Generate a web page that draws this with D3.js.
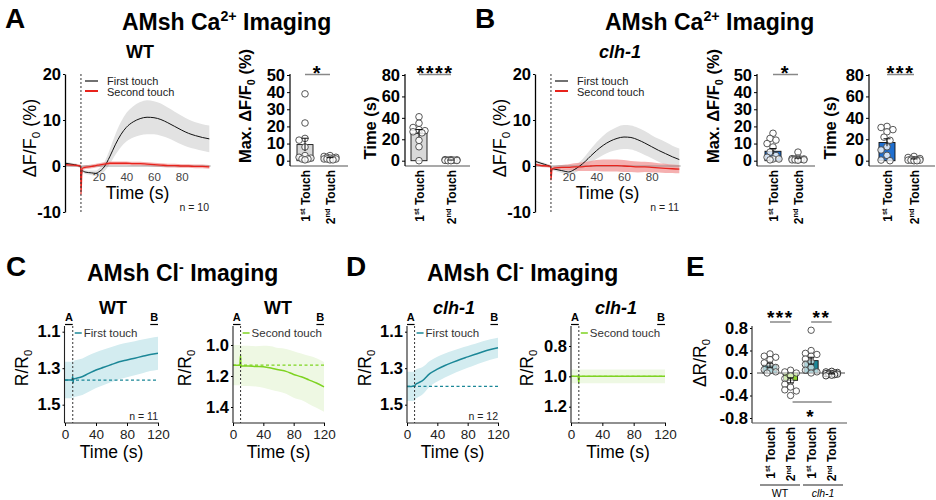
<!DOCTYPE html>
<html><head><meta charset="utf-8">
<script src="https://cdn.jsdelivr.net/npm/d3@7"></script>
<style>body{margin:0;background:#fff}svg{font-family:"Liberation Sans",Arial,Helvetica,sans-serif}</style>
</head><body><svg id="c" width="936" height="500"></svg>
<script>
// ---------------- DATA ----------------
// Ca2+ imaging traces (time in s)
const caTime = [-4,0,5,7,7.2,8,10,15,18,20,24,28,32,36,40,45,50,55,60,65,70,75,80,85,90,95,100];
const wtFirstMean = [0.6,0.4,0.1,-0.2,-3.0,-1.0,-1.3,-1.5,-1.6,-1.3,-0.2,2.0,4.6,6.8,8.4,9.6,10.3,10.6,10.5,10.1,9.4,8.6,7.8,7.1,6.6,6.2,5.9];
const wtFirstSem  = [0.3,0.3,0.3,0.3,0.5,0.4,0.4,0.5,0.6,0.7,1.0,1.6,2.2,2.7,3.1,3.4,3.6,3.7,3.6,3.5,3.3,3.2,3.1,3.0,2.9,2.9,2.9];
const wtSecondMean = [0.3,0.2,0.1,0.0,-6.2,-0.5,-0.3,-0.1,0.1,0.2,0.4,0.6,0.6,0.6,0.6,0.5,0.5,0.4,0.3,0.2,0.1,0.1,0.0,0.0,-0.1,-0.1,-0.2];
const wtSecondSem  = [0.3,0.3,0.3,0.3,0.4,0.4,0.4,0.4,0.4,0.4,0.4,0.4,0.4,0.4,0.4,0.4,0.4,0.4,0.4,0.4,0.4,0.4,0.4,0.4,0.4,0.4,0.4];
const clhFirstMean = [1.0,0.6,0.1,-0.2,-1.2,-0.6,-0.7,-1.0,-1.2,-1.3,-0.8,0.0,1.0,2.2,3.3,4.5,5.4,6.0,6.3,6.2,5.7,5.0,4.2,3.4,2.7,2.0,1.4];
const clhFirstSem  = [0.3,0.3,0.3,0.3,0.4,0.4,0.4,0.5,0.5,0.6,0.7,0.9,1.2,1.5,1.8,2.1,2.3,2.5,2.6,2.6,2.6,2.6,2.5,2.5,2.5,2.4,2.4];
const clhSecondMean = [0.3,0.1,0.0,-0.1,-3.0,-0.6,-0.4,-0.3,-0.3,-0.3,-0.2,-0.2,-0.1,0.0,0.1,0.1,0.1,0.1,0.0,-0.1,-0.2,-0.2,-0.3,-0.4,-0.5,-0.6,-0.7];
const clhSecondSem  = [0.3,0.3,0.3,0.3,0.4,0.4,0.4,0.5,0.6,0.7,0.8,0.9,1.0,1.1,1.2,1.3,1.3,1.3,1.3,1.2,1.2,1.1,1.1,1.0,1.0,0.9,0.9];
const caTouch = 7.2;
const caYTicks = [-10,0,10,20];
const caXTicks = [20,40,60,80];

// Ca2+ bar charts
const touchCats = ["1st Touch","2nd Touch"];
const touchOrd = ["1","2"];
const touchSup = ["st","nd"];
const wtMax1 = [39,22,13,12,8,3,2,1.5,1,1,0.5];
const wtMax2 = [3,2.5,2,2,1.5,1.5,1,1,1,0.5,0.5];
const wtMaxMean = [9.4,1.5], wtMaxSem = [3.7,0.3];
const wtTime1 = [41,35,31,29,28,27,26,19,13,0];
const wtTime2 = [1,1,0.8,0.6,0.5,0.5,0.3,0.2,0,0];
const wtTimeMean = [25.5,0.5], wtTimeSem = [3.6,0.1];
const clhMax1 = [16,13,12,10,8,5,3,2,1,1,0.5];
const clhMax2 = [5,1.5,1.2,1,1,0.8,0.8,0.5,0.5,0.5,0.3];
const clhMaxMean = [5.5,1.1], clhMaxSem = [1.6,0.4];
const clhTime1 = [32,31,29,27,22,19,13,10,5,0.6,0];
const clhTime2 = [4,3,2,1.5,1,1,0.5,0.5,0.5,0,0];
const clhTimeMean = [17,1.3], clhTimeSem = [3.5,0.4];
const maxTicks = [0,10,20,30,40,50];
const timeTicks = [0,20,40,60,80];

// Cl- imaging traces
const clTime = [0,5,9,10,10.5,11,15,20,30,40,50,60,70,80,90,100,110,120];
const wtClFirstMean = [1.365,1.365,1.365,1.345,1.38,1.36,1.355,1.35,1.33,1.31,1.295,1.28,1.265,1.255,1.245,1.235,1.225,1.218];
const wtClFirstSem  = [0.1,0.1,0.1,0.1,0.1,0.1,0.1,0.1,0.1,0.098,0.097,0.096,0.095,0.094,0.093,0.092,0.091,0.09];
const wtClSecondMean = [1.13,1.13,1.13,1.065,1.14,1.135,1.135,1.135,1.138,1.14,1.148,1.16,1.17,1.19,1.205,1.225,1.245,1.27];
const wtClSecondSem  = [0.13,0.13,0.13,0.13,0.13,0.13,0.13,0.13,0.13,0.135,0.14,0.14,0.145,0.15,0.15,0.155,0.16,0.16];
const clhClFirstMean = [1.40,1.40,1.398,1.40,1.395,1.39,1.38,1.37,1.33,1.305,1.285,1.268,1.252,1.238,1.224,1.21,1.198,1.188];
const clhClFirstSem  = [0.08,0.08,0.08,0.08,0.08,0.08,0.078,0.075,0.07,0.068,0.066,0.064,0.062,0.06,0.058,0.057,0.056,0.055];
const clhClSecondMean = [1.0,1.0,1.0,1.04,1.005,1.0,1.0,1.0,1.0,1.0,1.0,1.0,1.0,1.0,1.0,1.0,1.0,1.0];
const clhClSecondSem  = [0.045,0.045,0.045,0.045,0.045,0.045,0.045,0.045,0.045,0.045,0.045,0.045,0.045,0.045,0.045,0.045,0.045,0.045];
const clTouch = 10;
const clXTicks = [0,40,80,120];

// Panel E
const eCats = ["WT 1st","WT 2nd","clh-1 1st","clh-1 2nd"];
const eOrd = ["1","2","1","2"];
const eSup = ["st","nd","st","nd"];
const ePoints = [
  [0.34,0.30,0.28,0.24,0.18,0.14,0.10,0.06,0.04,0.02,0.0],
  [0.05,0.02,0.0,-0.05,-0.1,-0.15,-0.2,-0.25,-0.3,-0.32,-0.4],
  [0.76,0.4,0.35,0.33,0.3,0.25,0.2,0.15,0.1,0.05,0.02,0.0],
  [0.03,0.02,0.01,0.0,0.0,-0.01,-0.01,-0.02,-0.02,-0.03,-0.04,-0.05]
];
const eMean = [0.14,-0.13,0.22,-0.01];
const eSem = [0.035,0.045,0.06,0.008];
const eTicks = [-0.8,-0.4,0,0.4,0.8];

// ---------------- DRAWING ----------------
const FONT = '"Liberation Sans", Arial, Helvetica, sans-serif';
const svg = d3.select("#c");
const TEAL = "#1b8797", TEAL_BAND = "#d3ecf0";
const GREEN = "#7ed321", GREEN_BAND = "#eef8e3";

function rich(g, x, y, parts, o) {
  const t = g.append("text")
    .attr("transform", `translate(${x},${y})` + (o.rot ? ` rotate(${o.rot})` : ""))
    .attr("font-size", o.size).attr("font-weight", o.weight || "normal")
    .attr("text-anchor", o.anchor || "middle").attr("fill", o.fill || "#000")
    .attr("font-family", FONT);
  if (o.italic) t.attr("font-style", "italic");
  let cur = 0;
  parts.forEach(p => {
    const ts = t.append("tspan").text(p.t);
    let target = 0, fs = null;
    if (p.s === "sup") { target = -o.size * 0.38; fs = o.size * 0.62; }
    if (p.s === "sub") { target = o.size * 0.22; fs = o.size * 0.65; }
    ts.attr("dy", target - cur); cur = target;
    if (fs) ts.attr("font-size", fs);
    if (p.italic) ts.attr("font-style", "italic");
  });
  return t;
}
function line(g, x1, y1, x2, y2, stroke, w, dash) {
  const l = g.append("line").attr("x1", x1).attr("y1", y1).attr("x2", x2).attr("y2", y2)
    .attr("stroke", stroke).attr("stroke-width", w);
  if (dash) l.attr("stroke-dasharray", dash);
  return l;
}
function styleAxis(a, size, weight, fill) {
  a.attr("font-family", FONT).attr("font-size", size).attr("font-weight", weight || "normal");
  a.selectAll("text").attr("fill", fill || "#000");
  a.selectAll("line").attr("stroke", "#000");
}
// compact beeswarm: points stay within +-maxOff of the bar centre, overlapping if needed
function swarm(vals, y, r, maxOff) {
  const placed = [];
  const step = r * 0.9;
  const cands = [0];
  for (let k = 1; k * step <= maxOff + 0.01; k++) { cands.push(-k * step, k * step); }
  return vals.map(v => {
    const py = y(v);
    let best = 0, bestD = -1;
    for (const px of cands) {
      const d = placed.length ? d3.min(placed, p => Math.hypot(p[0] - px, p[1] - py)) : 99;
      if (d >= r * 1.7) { best = px; bestD = d; break; }
      if (d > bestD) { bestD = d; best = px; }
    }
    placed.push([best, py]);
    return best;
  });
}

// ----- Ca line chart -----
function caLine(dx, m1, s1, m2, s2, nText) {
  const g = svg.append("g");
  const x = d3.scaleLinear().domain([0, 100]).range([71 + dx, 209.3 + dx]);
  const y = d3.scaleLinear().domain([-10, 20]).range([212, 74]);
  const idx = d3.range(caTime.length);
  const area = (m, s) => d3.area().curve(d3.curveMonotoneX).x(i => x(caTime[i])).y0(i => y(m[i] - s[i])).y1(i => y(m[i] + s[i]));
  g.append("path").attr("d", area(m1, s1)(idx)).attr("fill", "#e2e2e2");
  g.append("path").attr("d", area(m2, s2)(idx)).attr("fill", "#f29595").attr("fill-opacity", 0.75);
  line(g, 65 + dx, y(0), x(101), y(0), "#888", 0.8);
  const xa = g.append("g").attr("transform", `translate(0,${y(0)})`)
    .call(d3.axisBottom(x).tickValues(caXTicks).tickSize(0).tickPadding(7));
  xa.select(".domain").remove();
  styleAxis(xa, 11.5, "normal", "#444");
  const ln = m => d3.line().curve(d3.curveMonotoneX).x(i => x(caTime[i])).y(i => y(m[i]));
  g.append("path").attr("d", ln(m1)(idx)).attr("fill", "none").attr("stroke", "#111").attr("stroke-width", 1);
  g.append("path").attr("d", ln(m2)(idx)).attr("fill", "none").attr("stroke", "#e8231c").attr("stroke-width", 1.3);
  const ya = g.append("g").attr("transform", `translate(${65 + dx},0)`)
    .call(d3.axisLeft(y).tickValues(caYTicks).tickSize(2).tickSizeOuter(0).tickPadding(2).tickFormat(d => String(d)));
  styleAxis(ya, 16.5, "bold");
  ya.select(".domain").attr("stroke", "#000").attr("stroke-width", 1.3);
  line(g, x(caTouch), 74, x(caTouch), 212, "#333", 1, "2,2");
  // legend
  line(g, 85 + dx, 81, 98 + dx, 81, "#111", 1.2);
  line(g, 85 + dx, 91, 98 + dx, 91, "#e8231c", 2);
  rich(g, 107 + dx, 84.5, [{ t: "First touch" }], { size: 11, anchor: "start", fill: "#222" });
  rich(g, 107 + dx, 96, [{ t: "Second touch" }], { size: 11, anchor: "start", fill: "#222" });
  rich(g, 137.5 + dx, 199, [{ t: "Time (s)" }], { size: 17.5 });
  rich(g, 209 + dx, 211, [{ t: nText }], { size: 10.5, anchor: "end", fill: "#222" });
  rich(g, 36 + dx, 138, [{ t: "\u0394F/F" }, { t: "0", s: "sub" }, { t: " (%)" }], { size: 18, rot: -90 });
}

// ----- Ca bar chart -----
function caBar(o) {
  const g = svg.append("g");
  const y = d3.scaleLinear().domain([0, o.max]).range([160.7, 75]);
  const x = d3.scalePoint().domain(touchCats).range([o.x1, o.x2]);
  line(g, o.ax, 166, o.axEnd, 166, "#555", 1.2);
  touchCats.forEach((c, i) => {
    const cx = x(c);
    g.append("rect").attr("x", cx - 8).attr("width", 16).attr("y", y(o.mean[i]))
      .attr("height", y(0) - y(o.mean[i])).attr("fill", o.fill).attr("stroke", "#111").attr("stroke-width", 0.9);
    const pts = o.pts[i];
    const offs = swarm(pts, y, 3.3, 7);
    pts.forEach((v, k) => {
      g.append("circle").attr("cx", cx + offs[k]).attr("cy", y(v)).attr("r", 3.3)
        .attr("fill", "#fff").attr("fill-opacity", 0.8).attr("stroke", "#444").attr("stroke-width", 0.9);
    });
    const yt = y(o.mean[i] + o.sem[i]), yb = y(Math.max(0, o.mean[i] - o.sem[i]));
    line(g, cx, yb, cx, yt, "#111", 1);
    line(g, cx - 3.5, yt, cx + 3.5, yt, "#111", 1);
    rich(g, cx + 4.5, 170, [{ t: touchOrd[i] }, { t: touchSup[i], s: "sup" }, { t: " Touch" }],
      { size: 12, weight: "bold", anchor: "end", rot: -90 });
  });
  const ya = g.append("g").attr("transform", `translate(${o.ax},0)`)
    .call(d3.axisLeft(y).tickValues(o.ticks).tickSize(3).tickSizeOuter(0).tickPadding(2));
  styleAxis(ya, 16.5, "bold");
  ya.select(".domain").remove();
  line(g, o.ax, 74, o.ax, 166, "#000", 1.2);
  // significance
  const mid = (x(touchCats[0]) + x(touchCats[1])) / 2;
  line(g, x(touchCats[0]), 74.5, x(touchCats[1]), 74.5, "#888", 1.5);
  rich(g, mid, 80, [{ t: o.sig }], { size: 20, weight: "bold" }).attr("letter-spacing", 1.5);
  rich(g, o.ylx, o.lyc, o.ylabel, { size: 16.5, weight: "bold", rot: -90 });
}

// ----- Cl line chart -----
function clLine(o) {
  const g = svg.append("g");
  const x = d3.scaleLinear().domain([0, 120]).range(o.xr);
  const y = d3.scaleLinear().domain(o.yd).range(o.yr);
  const idx = d3.range(clTime.length);
  const m = o.mean, s = o.sem;
  g.append("path").attr("d", d3.area().curve(d3.curveMonotoneX).x(i => x(clTime[i]))
    .y0(i => y(m[i] - s[i])).y1(i => y(m[i] + s[i]))(idx)).attr("fill", o.band);
  line(g, x(0), y(m[0]), x(120), y(m[0]), o.color, 1.2, "3,2.5");
  g.append("path").attr("d", d3.line().curve(d3.curveMonotoneX).x(i => x(clTime[i])).y(i => y(m[i]))(idx))
    .attr("fill", "none").attr("stroke", o.color).attr("stroke-width", 1.5);
  line(g, x(clTouch), 326, x(clTouch), 423, "#333", 1, "2,2");
  line(g, o.ax, 326, o.ax, 423, "#222", 1.1);
  line(g, o.ax, 423, x(120) + 1, 423, "#222", 1.1);
  const ya = g.append("g").attr("transform", `translate(${o.ax},0)`)
    .call(d3.axisLeft(y).tickValues(o.ticks).tickSize(2).tickSizeOuter(0).tickPadding(2).tickFormat(d => d.toFixed(1)));
  ya.select(".domain").remove();
  styleAxis(ya, 16.5, "bold");
  const xa = g.append("g").attr("transform", "translate(0,423)")
    .call(d3.axisBottom(x).tickValues(clXTicks).tickSize(3).tickSizeOuter(0).tickPadding(3));
  xa.select(".domain").remove();
  styleAxis(xa, 13.5, "normal", "#222");
  // A / B markers
  line(g, x(0), 324.5, x(clTouch), 324.5, "#000", 1.2);
  line(g, x(110), 324.5, x(120), 324.5, "#000", 1.2);
  rich(g, (x(0) + x(clTouch)) / 2, 321, [{ t: "A" }], { size: 11, weight: "bold" });
  rich(g, (x(110) + x(120)) / 2, 321, [{ t: "B" }], { size: 11, weight: "bold" });
  // legend
  line(g, x(clTouch) + 2, 333, x(clTouch) + 9, 333, o.color, 1.5);
  rich(g, x(clTouch) + 11, 337, [{ t: o.legend }], { size: 11.5, anchor: "start", fill: "#333" });
  if (o.n) rich(g, x(120), 420, [{ t: o.n }], { size: 10.5, anchor: "end", fill: "#222" });
  rich(g, (o.xr[0] + o.xr[1]) / 2, 458, [{ t: "Time (s)" }], { size: 17.5 });
  rich(g, o.ylx, 368, [{ t: "R/R" }, { t: "0", s: "sub" }], { size: 17.5, rot: -90 });
  rich(g, o.titleX, 314, [{ t: o.title }], { size: 18, weight: "bold", italic: o.italic });
}

// ----- Panel E -----
function panelE() {
  const g = svg.append("g");
  const y = d3.scaleLinear().domain([-0.8, 0.8]).range([418, 328]);
  const x = d3.scalePoint().domain(eCats).range([770, 831.7]);
  const fills = [TEAL, "#8bd12b", TEAL, "#222"];
  line(g, 757, y(0), 845, y(0), "#333", 0.9);
  eCats.forEach((c, i) => {
    const cx = x(c);
    const top = Math.min(y(0), y(eMean[i])), h = Math.abs(y(0) - y(eMean[i]));
    g.append("rect").attr("x", cx - 7).attr("width", 14).attr("y", top).attr("height", Math.max(h, 1))
      .attr("fill", fills[i]).attr("stroke", "#111").attr("stroke-width", 0.9);
    const offs = swarm(ePoints[i], y, 3.2, 6);
    ePoints[i].forEach((v, k) => {
      g.append("circle").attr("cx", cx + offs[k]).attr("cy", y(v)).attr("r", 3.2)
        .attr("fill", "#fff").attr("fill-opacity", 0.65).attr("stroke", i === 3 ? "#222" : "#444").attr("stroke-width", 0.9);
    });
    const e1 = y(eMean[i] + eSem[i]), e2 = y(eMean[i] - eSem[i]);
    line(g, cx, e1, cx, e2, "#111", 1);
    line(g, cx - 3, e1, cx + 3, e1, "#111", 1);
    line(g, cx - 3, e2, cx + 3, e2, "#111", 1);
    rich(g, cx + 4.5, 427, [{ t: eOrd[i] }, { t: eSup[i], s: "sup" }, { t: " Touch" }],
      { size: 12, weight: "bold", anchor: "end", rot: -90 });
  });
  const ya = g.append("g").attr("transform", "translate(752,0)")
    .call(d3.axisLeft(y).tickValues(eTicks).tickSize(2).tickSizeOuter(0).tickPadding(2).tickFormat(d => d.toFixed(1)));
  ya.select(".domain").remove();
  styleAxis(ya, 16.5, "bold");
  line(g, 752, 326, 752, 423, "#222", 1.1);
  line(g, 752, 423, 847, 423, "#555", 1.2);
  // significance
  line(g, x(eCats[0]), 322, x(eCats[1]), 322, "#888", 1.5);
  rich(g, (x(eCats[0]) + x(eCats[1])) / 2, 324, [{ t: "***" }], { size: 19, weight: "bold" }).attr("letter-spacing", 1.5);
  line(g, x(eCats[2]), 322, x(eCats[3]), 322, "#888", 1.5);
  rich(g, (x(eCats[2]) + x(eCats[3])) / 2, 324, [{ t: "**" }], { size: 19, weight: "bold" }).attr("letter-spacing", 1.5);
  line(g, x(eCats[1]) + 2, 402, x(eCats[3]), 402, "#888", 1.5);
  rich(g, 810, 423, [{ t: "*" }], { size: 19, weight: "bold" });
  // groups
  line(g, 760, 485, 800, 485, "#222", 1);
  line(g, 803, 485, 843, 485, "#222", 1);
  rich(g, 780, 497, [{ t: "WT" }], { size: 10.5 });
  rich(g, 823, 497, [{ t: "clh-1" }], { size: 10.5, italic: true });
  rich(g, 706, 363, [{ t: "\u0394R/R" }, { t: "0", s: "sub" }], { size: 17.5, rot: -90 });
}

// ----- Headers -----
const hdr = svg.append("g");
rich(hdr, 5, 28, [{ t: "A" }], { size: 28, weight: "bold", anchor: "start" });
rich(hdr, 475, 28, [{ t: "B" }], { size: 28, weight: "bold", anchor: "start" });
rich(hdr, 6, 276, [{ t: "C" }], { size: 28, weight: "bold", anchor: "start" });
rich(hdr, 346, 276, [{ t: "D" }], { size: 28, weight: "bold", anchor: "start" });
rich(hdr, 686, 276, [{ t: "E" }], { size: 28, weight: "bold", anchor: "start" });
rich(hdr, 122, 30, [{ t: "AMsh Ca" }, { t: "2+", s: "sup" }, { t: " Imaging" }], { size: 23, weight: "bold", anchor: "start" });
rich(hdr, 605, 30, [{ t: "AMsh Ca" }, { t: "2+", s: "sup" }, { t: " Imaging" }], { size: 23, weight: "bold", anchor: "start" });
rich(hdr, 87, 281, [{ t: "AMsh Cl" }, { t: "-", s: "sup" }, { t: " Imaging" }], { size: 23, weight: "bold", anchor: "start" });
rich(hdr, 427, 281, [{ t: "AMsh Cl" }, { t: "-", s: "sup" }, { t: " Imaging" }], { size: 23, weight: "bold", anchor: "start" });
rich(hdr, 140, 58, [{ t: "WT" }], { size: 18, weight: "bold" });
rich(hdr, 620, 58, [{ t: "clh-1" }], { size: 18, weight: "bold", italic: true });

caLine(0, wtFirstMean, wtFirstSem, wtSecondMean, wtSecondSem, "n = 10");
caLine(470, clhFirstMean, clhFirstSem, clhSecondMean, clhSecondSem, "n = 11");

const maxLabel = [{ t: "Max. \u0394F/F" }, { t: "0", s: "sub" }, { t: " (%)" }];
const timeLabel = [{ t: "Time (s)" }];
caBar({ ax: 290, axEnd: 348, x1: 305, x2: 330, max: 50, ticks: maxTicks, pts: [wtMax1, wtMax2], mean: wtMaxMean, sem: wtMaxSem, fill: "#d9d9d9", sig: "*", ylabel: maxLabel, ylx: 251, lyc: 106 });
caBar({ ax: 405, axEnd: 470, x1: 419, x2: 451, max: 80, ticks: timeTicks, pts: [wtTime1, wtTime2], mean: wtTimeMean, sem: wtTimeSem, fill: "#d9d9d9", sig: "****", ylabel: timeLabel, ylx: 376, lyc: 128 });
caBar({ ax: 757, axEnd: 815, x1: 773, x2: 798, max: 50, ticks: maxTicks, pts: [clhMax1, clhMax2], mean: clhMaxMean, sem: clhMaxSem, fill: "#1f6fd0", sig: "*", ylabel: maxLabel, ylx: 719, lyc: 106 });
caBar({ ax: 869, axEnd: 935, x1: 887, x2: 914, max: 80, ticks: timeTicks, pts: [clhTime1, clhTime2], mean: clhTimeMean, sem: clhTimeSem, fill: "#1f6fd0", sig: "***", ylabel: timeLabel, ylx: 836, lyc: 128 });

clLine({ ax: 64.5, xr: [65, 158], yd: [1.1, 1.5], yr: [331.7, 404.7], ticks: [1.1, 1.3, 1.5], mean: wtClFirstMean, sem: wtClFirstSem, color: TEAL, band: TEAL_BAND, legend: "First touch", n: "n = 11", ylx: 28, title: "WT", titleX: 113 });
clLine({ ax: 233, xr: [233, 324], yd: [1.0, 1.4], yr: [345, 407], ticks: [1.0, 1.2, 1.4], mean: wtClSecondMean, sem: wtClSecondSem, color: GREEN, band: GREEN_BAND, legend: "Second touch", n: null, ylx: 191, title: "WT", titleX: 278 });
clLine({ ax: 407, xr: [407, 498], yd: [1.1, 1.5], yr: [331.7, 404.7], ticks: [1.1, 1.3, 1.5], mean: clhClFirstMean, sem: clhClFirstSem, color: TEAL, band: TEAL_BAND, legend: "First touch", n: "n = 12", ylx: 371, title: "clh-1", titleX: 454, italic: true });
clLine({ ax: 571, xr: [571, 665], yd: [0.8, 1.2], yr: [346, 406.7], ticks: [0.8, 1.0, 1.2], mean: clhClSecondMean, sem: clhClSecondSem, color: GREEN, band: GREEN_BAND, legend: "Second touch", n: null, ylx: 533, title: "clh-1", titleX: 616, italic: true });

panelE();
</script></body></html>
